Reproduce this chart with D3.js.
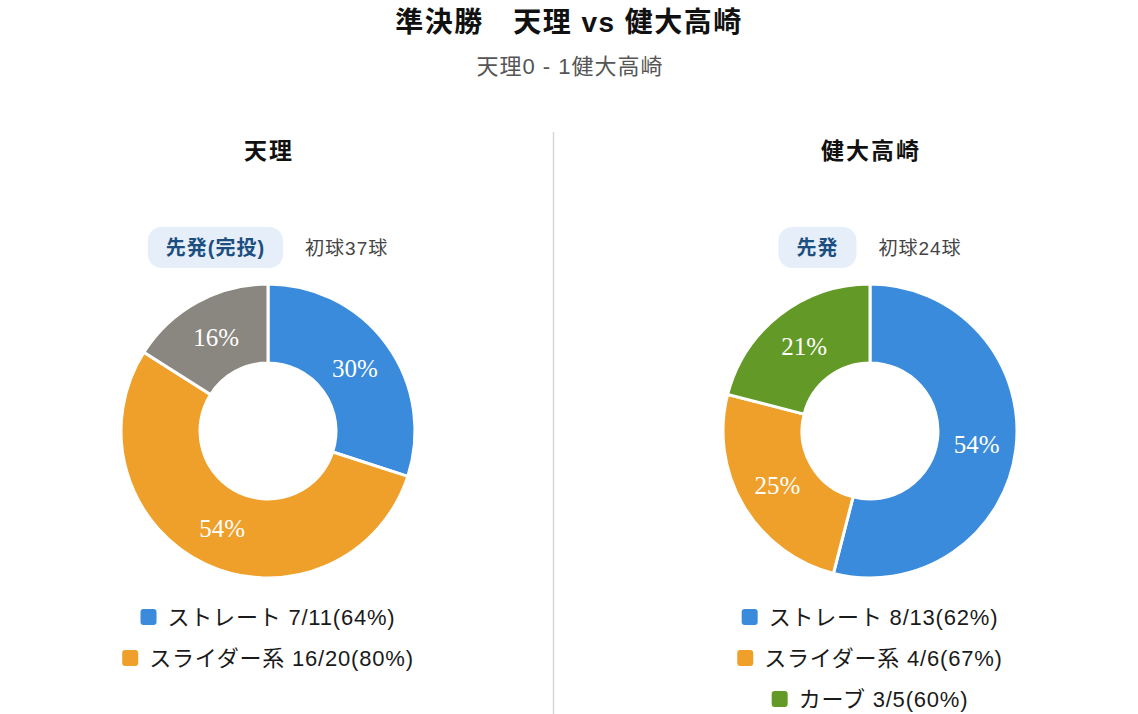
<!DOCTYPE html>
<html>
<head>
<meta charset="utf-8">
<script src="https://cdn.jsdelivr.net/npm/d3@7"></script>
<style>
  html, body { margin: 0; padding: 0; background: #fff; }
  svg { display: block; font-family: "Liberation Sans", "Noto Sans CJK JP", sans-serif; }
</style>
</head>
<body>
<svg id="chart" width="1138" height="714"></svg>
<script>
// match info
var mainTitle = "準決勝　天理 vs 健大高崎";
var scoreLine = "天理0 - 1健大高崎";
var teamNames = ["天理", "健大高崎"];
var roleLabels = ["先発(完投)", "先発"];
var firstPitchLabels = ["初球37球", "初球24球"];

// pitch mix (%), clockwise from top
var tenriTypes = ["ストレート", "スライダー系", "その他"];
var tenriShare = [30, 54, 16];
var kendaiTypes = ["ストレート", "スライダー系", "カーブ"];
var kendaiShare = [54, 25, 21];

// legend: strikes / thrown
var tenriLegendTypes = ["ストレート", "スライダー系"];
var tenriStrikes = [7, 16];
var tenriThrown = [11, 20];
var kendaiLegendTypes = ["ストレート", "スライダー系", "カーブ"];
var kendaiStrikes = [8, 4, 3];
var kendaiThrown = [13, 6, 5];

var pitchColor = d3.scaleOrdinal()
    .domain(["ストレート", "スライダー系", "カーブ", "その他"])
    .range(["#3a8bdb", "#eea02b", "#639a27", "#8a8780"]);

var svg = d3.select("#chart");

svg.append("text")
    .attr("x", 569).attr("y", 32)
    .attr("text-anchor", "middle")
    .attr("font-size", 28).attr("font-weight", "bold")
    .attr("letter-spacing", 1.5)
    .attr("fill", "#111")
    .text(mainTitle);

svg.append("text")
    .attr("x", 570).attr("y", 74)
    .attr("text-anchor", "middle")
    .attr("font-size", 22)
    .attr("letter-spacing", 1)
    .attr("fill", "#555")
    .text(scoreLine);

// divider
svg.append("line")
    .attr("x1", 553.5).attr("x2", 553.5)
    .attr("y1", 132).attr("y2", 714)
    .attr("stroke", "#d8d8d8").attr("stroke-width", 1.5);

var panels = [
    { cx: 268, types: tenriTypes, share: tenriShare,
      legTypes: tenriLegendTypes, strikes: tenriStrikes, thrown: tenriThrown },
    { cx: 870, types: kendaiTypes, share: kendaiShare,
      legTypes: kendaiLegendTypes, strikes: kendaiStrikes, thrown: kendaiThrown }
];

var outerR = 147, innerR = 68, pieCy = 431;

var pie = d3.pie().sort(null).value(function (d) { return d.v; });
var arc = d3.arc().innerRadius(innerR).outerRadius(outerR);

panels.forEach(function (p, k) {
    var g = svg.append("g");

    g.append("text")
        .attr("x", p.cx + 1).attr("y", 159)
        .attr("text-anchor", "middle")
        .attr("font-size", 23).attr("font-weight", "bold")
        .attr("letter-spacing", 2)
        .attr("fill", "#111")
        .text(teamNames[k]);

    // badge row, centred as a group
    var badge = g.append("g");
    var bRect = badge.append("rect");
    var bText = badge.append("text")
        .attr("font-size", 20).attr("font-weight", "bold")
        .attr("letter-spacing", 1)
        .attr("fill", "#1c4f80")
        .text(roleLabels[k]);
    var fText = badge.append("text")
        .attr("font-size", 19)
        .attr("letter-spacing", 1)
        .attr("fill", "#444")
        .text(firstPitchLabels[k]);
    var pad = 18, gap = 22;
    var bw = bText.node().getComputedTextLength() + pad * 2;
    var fw = fText.node().getComputedTextLength();
    var x0 = p.cx - (bw + gap + fw) / 2;
    bRect.attr("x", x0).attr("y", 227).attr("width", bw).attr("height", 41)
        .attr("rx", 14).attr("fill", "#e5eef9");
    bText.attr("x", x0 + pad).attr("y", 255);
    fText.attr("x", x0 + bw + gap).attr("y", 255);

    // donut
    var data = p.types.map(function (t, i) { return { t: t, v: p.share[i] }; });
    var pg = g.append("g").attr("transform", "translate(" + p.cx + "," + pieCy + ")");
    var arcs = pie(data);
    pg.selectAll("path").data(arcs).enter().append("path")
        .attr("d", arc)
        .attr("fill", function (d) { return pitchColor(d.data.t); })
        .attr("stroke", "#fff").attr("stroke-width", 3);
    pg.selectAll("text").data(arcs).enter().append("text")
        .attr("transform", function (d) { return "translate(" + arc.centroid(d) + ")"; })
        .attr("text-anchor", "middle").attr("dy", "0.35em")
        .attr("font-family", "'Liberation Serif', 'DejaVu Serif', serif")
        .attr("font-size", 25)
        .attr("fill", "#fff")
        .text(function (d) { return d.data.v + "%"; });

    // legend rows, each centred
    p.legTypes.forEach(function (t, i) {
        var y = 617 + i * 41;
        var row = g.append("g");
        var sq = row.append("rect")
            .attr("width", 16).attr("height", 16).attr("rx", 3)
            .attr("fill", pitchColor(t));
        var pct = Math.round(p.strikes[i] / p.thrown[i] * 100);
        var lt = row.append("text")
            .attr("font-size", 22).attr("fill", "#1a1a1a")
            .attr("letter-spacing", 0.8)
            .text(t + " " + p.strikes[i] + "/" + p.thrown[i] + "(" + pct + "%)");
        var tw = lt.node().getComputedTextLength();
        var lx = p.cx - (16 + 11 + tw) / 2;
        sq.attr("x", lx).attr("y", y - 8);
        lt.attr("x", lx + 27).attr("y", y + 8);
    });
});
</script>
</body>
</html>
